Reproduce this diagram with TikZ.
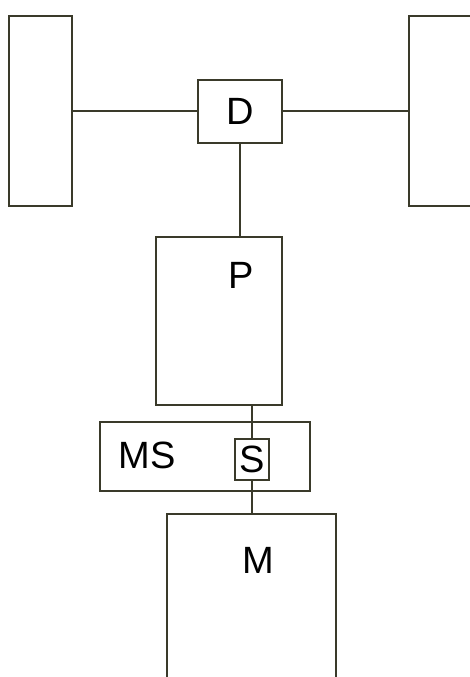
\documentclass[tikz,border=0pt]{standalone}
\usepackage{fontspec}
\setmainfont{Liberation Sans}
\definecolor{linec}{RGB}{58,58,42}
\begin{document}
\begin{tikzpicture}[x=1pt,y=-1pt,
  box/.style={draw=linec,line width=2pt,inner sep=0pt,fill=none},
  lbl/.style={inner sep=0pt,font=\fontsize{38}{38}\selectfont,text=black},
  conn/.style={draw=linec,line width=2pt}]
\useasboundingbox (0,0) rectangle (470,677);
\clip (0,0) rectangle (470,677);
\node[box,minimum width=63pt,minimum height=190pt] (wl) at (40.5,111) {};
\node[box,minimum width=63pt,minimum height=190pt] (wr) at (440.5,111) {};
\node[box,minimum width=84pt,minimum height=63pt,lbl] (D) at (240,111) {D};
\node[box,minimum width=126pt,minimum height=168pt] (P) at (219,321) {};
\node[lbl] (Pl) at (241,275) {P};
\node[box,minimum width=210pt,minimum height=69pt] (MS) at (205,456.5) {};
\node[lbl] (MSl) at (147,455) {MS};
\node[box,minimum width=34pt,minimum height=41pt,lbl] (S) at (252,459.5) {S};
\node[box,minimum width=169pt,minimum height=190pt] (M) at (251.5,609) {};
\node[lbl] (Ml) at (258,560) {M};
\draw[conn] (wl.east) -- (D.west);
\draw[conn] (D.east) -- (wr.west);
\draw[conn] (D.south) -- (D.south |- P.north);
\draw[conn] (S.north |- P.south) -- (S.north);
\draw[conn] (S.south) -- (S.south |- M.north);
\end{tikzpicture}
\end{document}
